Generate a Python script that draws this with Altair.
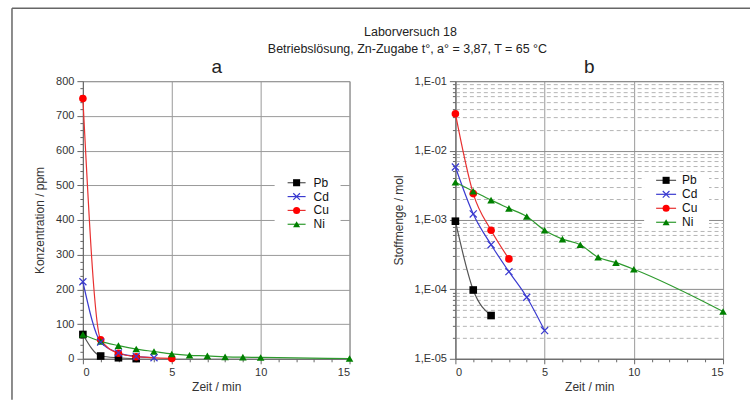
import altair as alt
import pandas as pd

FONT = "Liberation Sans"
series = ["Pb", "Cd", "Cu", "Ni"]
legend_rank = [0, 1, 2, 3]
line_colors = ["#555555", "#3a3ad0", "#e83030", "#2e9a2e"]
marker_colors = ["#000000", "#3a3ad0", "#ff0000", "#008000"]
shapes = ["square", "cross", "circle", "triangle-up"]
XPATH = "M-1,-1L1,1M-1,1L1,-1"

TITLE = "Laborversuch 18"
SUBTITLE = "Betriebslösung, Zn-Zugabe t°, a° = 3,87, T = 65 °C"

# Panel a: Konzentration / ppm
a_t = {"Pb": [0, 1, 2, 3],
       "Cd": [0, 1, 2, 3, 4],
       "Cu": [0, 1, 2, 3, 5],
       "Ni": [0, 1, 2, 3, 4, 5, 6, 7, 8, 9, 10, 15]}
a_v = {"Pb": [70, 8, 3, 0.5],
       "Cd": [222, 48, 17, 7, 3],
       "Cu": [750, 55, 16, 6, 1],
       "Ni": [70, 50, 38, 28, 21, 14, 10, 8.5, 5.5, 4.7, 3.8, 0.9]}

# Panel b: Stoffmenge / mol
b_t = {"Pb": [0, 1, 2],
       "Cd": [0, 1, 2, 3, 4, 5],
       "Cu": [0, 1, 2, 3],
       "Ni": [0, 1, 2, 3, 4, 5, 6, 7, 8, 9, 10, 15]}
b_v = {"Pb": [9.6e-4, 9.8e-5, 4.2e-5],
       "Cd": [5.8e-3, 1.22e-3, 4.4e-4, 1.8e-4, 7.7e-5, 2.55e-5],
       "Cu": [3.4e-2, 2.4e-3, 7.1e-4, 2.75e-4],
       "Ni": [3.5e-3, 2.6e-3, 1.93e-3, 1.47e-3, 1.12e-3, 7.1e-4, 5.3e-4,
              4.4e-4, 2.9e-4, 2.43e-4, 1.95e-4, 4.8e-5]}

x_ticks = list(range(0, 16))
a_y_ticks = list(range(0, 801, 20))
b_y_ticks = [k * 10.0 ** e for e in range(-5, -1) for k in range(1, 10)] + [0.1]


def make_df(tt, vv):
    rows = []
    for s in series:
        for t, v in zip(tt[s], vv[s]):
            rows.append({"series": s, "t": t, "v": v})
    return pd.DataFrame(rows)


df_a = make_df(a_t, a_v)
df_b = make_df(b_t, b_v)
legend_df = pd.DataFrame({"series": series, "rank": legend_rank})
one = pd.DataFrame({"k": [0]})

major5 = "datum.value % 5 === 0"
x_axis = alt.Axis(
    values=x_ticks, title="Zeit / min", titleFontWeight="normal", titlePadding=4,
    labelExpr=f"{major5} ? datum.label : ''",
    tickSize={"condition": {"test": major5, "value": 5}, "value": 3},
    gridOpacity={"condition": {"test": major5, "value": 1}, "value": 0},
    gridColor="#9a9a9a",
)


def txt(text, x, y, size, baseline="alphabetic"):
    return alt.Chart(one).mark_text(text=text, font=FONT, fontSize=size, align="center",
                                    baseline=baseline, color="#222").encode(
        x=alt.value(x), y=alt.value(y))


def panel(df, y_enc, legend_pos, width, extras):
    x = alt.X("t:Q", scale=alt.Scale(domain=[0, 15], nice=False, zero=False), axis=x_axis)
    base = alt.Chart(df)
    lines = base.mark_line(interpolate="monotone", strokeWidth=1.2).encode(
        x=x, y=y_enc,
        stroke=alt.Stroke("series:N", scale=alt.Scale(domain=series, range=line_colors), legend=None),
    )
    pts = base.transform_filter("datum.series !== 'Cd'").mark_point(
        filled=True, size=58, opacity=1).encode(
        x=x, y=y_enc,
        color=alt.Color("series:N", scale=alt.Scale(domain=series, range=marker_colors), legend=None),
        shape=alt.Shape("series:N", scale=alt.Scale(domain=series, range=shapes), legend=None),
    )
    cd = base.transform_filter("datum.series === 'Cd'").mark_point(
        shape=XPATH, filled=False, size=50, strokeWidth=1.2, color="#3a3ad0", opacity=1).encode(
        x=x, y=y_enc)
    data_layer = alt.layer(lines, pts, cd)

    bx0, bx1, by0, by1, stub0, stub1, mk, tx, r0, r1 = legend_pos
    ly = alt.Y("rank:Q", scale=alt.Scale(domain=[0, 3], range=[r0, r1], nice=False, zero=False), axis=None)
    lbase = alt.Chart(legend_df)
    box = alt.Chart(one).mark_rect(color="white").encode(
        x=alt.value(bx0), x2=alt.value(bx1), y=alt.value(by0), y2=alt.value(by1))
    stubs = lbase.mark_rule(strokeWidth=1.2).encode(
        x=alt.value(stub0), x2=alt.value(stub1), y=ly,
        stroke=alt.Stroke("series:N", legend=None))
    lpts = lbase.transform_filter("datum.series !== 'Cd'").mark_point(
        filled=True, size=50, opacity=1).encode(
        x=alt.value(mk), y=ly,
        color=alt.Color("series:N", legend=None), shape=alt.Shape("series:N", legend=None))
    lcd = lbase.transform_filter("datum.series === 'Cd'").mark_point(
        shape=XPATH, filled=False, size=45, strokeWidth=1.2, color="#3a3ad0", opacity=1).encode(
        x=alt.value(mk), y=ly)
    ltext = lbase.mark_text(align="left", baseline="middle", fontSize=12, font=FONT,
                            color="#111").encode(x=alt.value(tx), y=ly, text="series:N")
    legend_layer = alt.layer(box, stubs, lpts, lcd, ltext, *extras)

    return alt.layer(data_layer, legend_layer).resolve_scale(y="independent").properties(
        width=width, height=278)


y_a = alt.Y("v:Q", scale=alt.Scale(domain=[0, 800], nice=False),
            axis=alt.Axis(values=a_y_ticks, title="Konzentration / ppm", titleFontWeight="normal",
                          titlePadding=9,
                          labelExpr="datum.value % 100 === 0 ? datum.label : ''",
                          tickSize={"condition": {"test": "datum.value % 100 === 0", "value": 6}, "value": 3},
                          gridOpacity={"condition": {"test": "datum.value % 100 === 0", "value": 1}, "value": 0},
                          gridColor="#9a9a9a"))

major_log = "abs(log(datum.value)/LN10 - round(log(datum.value)/LN10)) < 1e-6"
y_b = alt.Y("v:Q", scale=alt.Scale(type="log", domain=[1e-5, 1e-1], nice=False),
            axis=alt.Axis(values=b_y_ticks, title="Stoffmenge / mol", titleFontWeight="normal",
                          titlePadding=9,
                          labelExpr=f"{major_log} ? '1,E-0' + round(-log(datum.value)/LN10) : ''",
                          tickSize={"condition": {"test": major_log, "value": 6}, "value": 3},
                          gridDash={"condition": {"test": major_log, "value": []}, "value": [4, 3]},
                          gridColor={"condition": {"test": major_log, "value": "#8a8a8a"}, "value": "#b5b5b5"}))

# outer frame (top and left edges) and header texts, positioned relative to panel a
frame_top = alt.Chart(one).mark_rule(color="#666", strokeWidth=1.5).encode(
    x=alt.value(-71), x2=alt.value(668), y=alt.value(-73))
frame_left = alt.Chart(one).mark_rule(color="#666", strokeWidth=1.5).encode(
    x=alt.value(-71), y=alt.value(-73), y2=alt.value(319))
extras_a = [frame_top, frame_left,
            txt(TITLE, 328, -45, 12.5),
            txt(SUBTITLE, 325, -28, 12.5),
            txt("a", 134, -8, 19)]
extras_b = [txt("b", 134, -8, 19)]

pa = panel(df_a, y_a, (192, 258, 93, 150, 205, 223, 214, 231, 101.7, 143.3), 267, extras_a)
pb = panel(df_b, y_b, (189, 254, 92, 149, 201, 221, 211, 227, 99.3, 141.3), 268, extras_b)

chart = alt.hconcat(pa, pb, spacing=106, bounds="flush").properties(
    padding={"left": 10, "top": 6, "right": 0, "bottom": 0},
).configure(background="white").configure_view(stroke="#888888", strokeWidth=1).configure_axis(
    labelFont=FONT, labelFontSize=11, labelColor="#333",
    titleFont=FONT, titleFontSize=12, titleFontWeight="normal", titleColor="#333",
    domainColor="#666", tickColor="#666", labelPadding=3,
)

chart.save("out.html", embed_options={"renderer": "svg", "actions": False})
